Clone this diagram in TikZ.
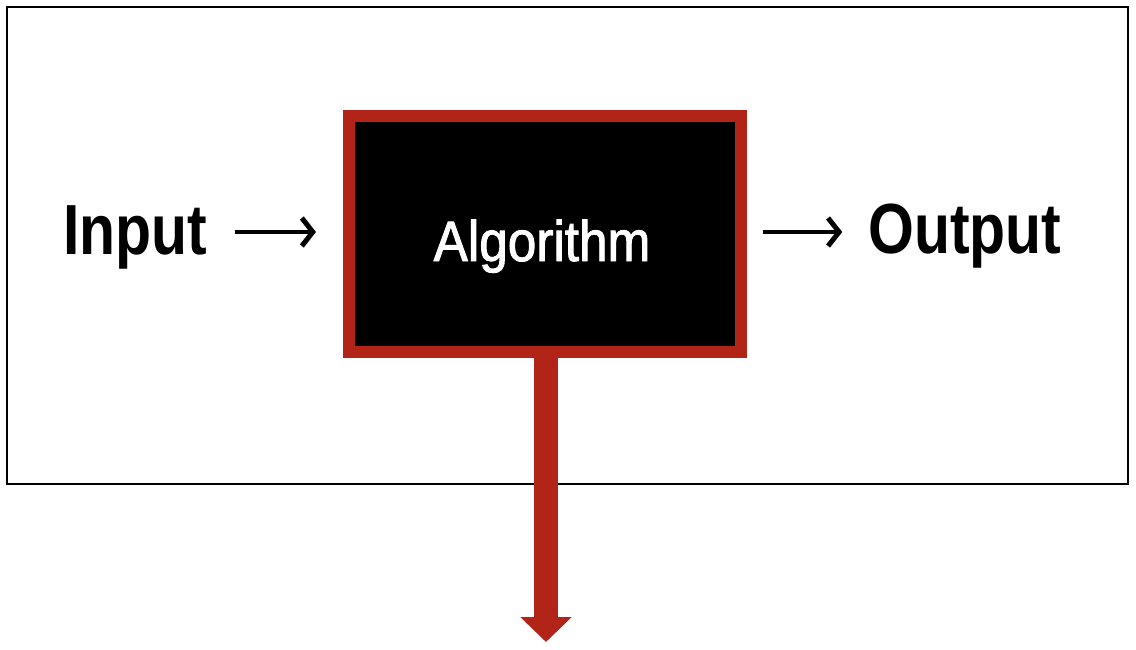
\documentclass[tikz,border=0pt]{standalone}
\usepackage{fontspec}
\usetikzlibrary{arrows.meta}
\newfontfamily\condfont[FakeStretch=0.83]{Liberation Sans}
\newfontfamily\algofont[FakeStretch=0.90,FakeBold=1.6]{Liberation Sans}
\definecolor{boxred}{RGB}{178,36,24}

\begin{document}
\begin{tikzpicture}[x=1pt,y=-1pt]
   \tikzstyle{word}=[inner sep=0pt, anchor=base, font=\condfont\bfseries\fontsize{71}{71}\selectfont]
   \tikzstyle{algobox}=[draw=boxred, line width=12pt, fill=black, minimum width=392pt, minimum height=236pt]
   \tikzstyle{flow}=[line width=4.5pt, -{Straight Barb[length=11pt,width=28pt,line width=5pt]}]
   \tikzstyle{drop}=[draw=boxred, line width=24pt, -{Triangle[length=25pt,width=50pt]}]

\useasboundingbox (0,0) rectangle (1136,650);
\draw[line width=2pt] (7,7) rectangle (1128,484);

\node[algobox] (algo) at (545,234) {};
\node[inner sep=0pt, anchor=base, text=white, font=\algofont\fontsize{57}{57}\selectfont] (algotext) at (542,261) {Algorithm};
\node[word] (input) at (135.5,254) {Input};
\node[word] (output) at (965,253) {Output};

\draw[flow, shorten <=27pt, shorten >=27pt] ([yshift=2pt]input.east |- algo.west) -- ([yshift=2pt]algo.west);
\draw[flow, shorten <=16pt, shorten >=26pt] ([yshift=2pt]algo.east) -- ([yshift=2pt]output.west |- algo.east);

\coordinate (sink) at (546,642);
\draw[drop] (algo.south -| sink) -- (sink);

\end{tikzpicture}
\end{document}
